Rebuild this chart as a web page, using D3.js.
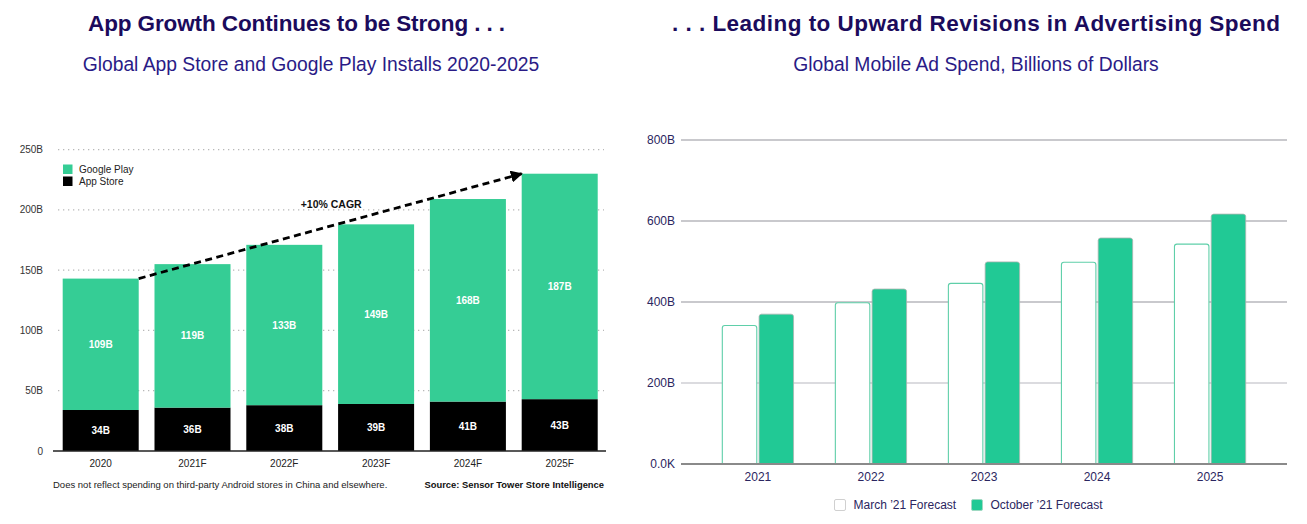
<!DOCTYPE html>
<html><head><meta charset="utf-8">
<script src="https://cdn.jsdelivr.net/npm/d3@7"></script>
<style>
body{margin:0;background:#fff;}
svg{display:block;font-family:"Liberation Sans",Arial,Helvetica,sans-serif;}
</style></head>
<body>
<svg id="chart" width="1307" height="524"></svg>
<script>
// ---- Left chart data ----
const leftYears = ["2020","2021F","2022F","2023F","2024F","2025F"];
const appStore = [34,36,38,39,41,43];
const googlePlay = [109,119,133,149,168,187];
const leftTicks = [0,50,100,150,200,250];
const leftTickLabels = ["0","50B","100B","150B","200B","250B"];

// ---- Right chart data ----
const rightYears = ["2021","2022","2023","2024","2025"];
const marchForecast = [342,398,446,498,543];
const octoberForecast = [370,432,499,558,617];
const rightTicks = [0,200,400,600,800];
const rightTickLabels = ["0.0K","200B","400B","600B","800B"];

const svg = d3.select("#chart");
const navy = "#1b0b5c";
const subNavy = "#2a1b86";
const green = "#35cd95";
const green2 = "#21c995";

// Titles
svg.append("text").attr("x",296.5).attr("y",31).attr("text-anchor","middle")
  .attr("font-size",22.5).attr("font-weight","bold").attr("fill",navy)
  .attr("textLength",417).attr("lengthAdjust","spacing")
  .text("App Growth Continues to be Strong . . .");
svg.append("text").attr("x",311).attr("y",71).attr("text-anchor","middle")
  .attr("font-size",19.3).attr("fill",subNavy)
  .text("Global App Store and Google Play Installs 2020-2025");
svg.append("text").attr("x",976).attr("y",31).attr("text-anchor","middle")
  .attr("font-size",22.5).attr("font-weight","bold").attr("fill",navy)
  .attr("textLength",608).attr("lengthAdjust","spacing")
  .text(". . . Leading to Upward Revisions in Advertising Spend");
svg.append("text").attr("x",976).attr("y",71).attr("text-anchor","middle")
  .attr("font-size",19.3).attr("fill",subNavy)
  .text("Global Mobile Ad Spend, Billions of Dollars");

// ---------- LEFT CHART ----------
const L = {x0:54.8, x1:605.6, y0:451, y1:149.6};
const xL = d3.scaleBand().domain(leftYears).range([L.x0,L.x1]).paddingInner(0.172).paddingOuter(0.086);
const yL = d3.scaleLinear().domain([0,250]).range([L.y0,L.y1]);
const gL = svg.append("g");

// dotted grid
gL.selectAll("line.grid").data(leftTicks.filter(d=>d>0)).join("line")
  .attr("x1",58).attr("x2",604).attr("y1",d=>yL(d)).attr("y2",d=>yL(d))
  .attr("stroke","#b8b8b8").attr("stroke-width",1.3).attr("stroke-dasharray","1.3,3.7");
// y tick labels
gL.selectAll("text.yt").data(leftTicks).join("text")
  .attr("x",43).attr("y",d=>yL(d)).attr("dy","0.35em").attr("text-anchor","end")
  .attr("font-size",10).attr("fill","#333").text((d,i)=>leftTickLabels[i]);

const stackData = leftYears.map((y,i)=>({year:y, a:appStore[i], g:googlePlay[i]}));
// App Store segments
gL.selectAll("rect.as").data(stackData).join("rect")
  .attr("x",d=>xL(d.year)).attr("width",xL.bandwidth())
  .attr("y",d=>yL(d.a)).attr("height",d=>yL(0)-yL(d.a)).attr("fill","#000");
// Google Play segments
gL.selectAll("rect.gp").data(stackData).join("rect")
  .attr("x",d=>xL(d.year)).attr("width",xL.bandwidth())
  .attr("y",d=>yL(d.a+d.g)).attr("height",d=>yL(d.a)-yL(d.a+d.g)).attr("fill",green);
// labels
gL.selectAll("text.asl").data(stackData).join("text")
  .attr("x",d=>xL(d.year)+xL.bandwidth()/2).attr("y",d=>yL(d.a/2)).attr("dy","0.35em")
  .attr("text-anchor","middle").attr("font-size",10).attr("font-weight","bold").attr("fill","#fff")
  .text(d=>d.a+"B");
gL.selectAll("text.gpl").data(stackData).join("text")
  .attr("x",d=>xL(d.year)+xL.bandwidth()/2).attr("y",d=>yL(d.a+d.g/2)).attr("dy","0.35em")
  .attr("text-anchor","middle").attr("font-size",10).attr("font-weight","bold").attr("fill","#fff")
  .text(d=>d.g+"B");
// baseline
gL.append("line").attr("x1",53).attr("x2",606).attr("y1",yL(0)).attr("y2",yL(0))
  .attr("stroke","#222").attr("stroke-width",1.3);
// x labels
gL.selectAll("text.xl").data(leftYears).join("text")
  .attr("x",d=>xL(d)+xL.bandwidth()/2).attr("y",yL(0)+12).attr("dy","0.35em")
  .attr("text-anchor","middle").attr("font-size",10).attr("fill","#222").text(d=>d);

// legend
const legL = [{n:"Google Play",c:green},{n:"App Store",c:"#000"}];
legL.forEach((d,i)=>{
  gL.append("rect").attr("x",63).attr("y",164.5+i*12).attr("width",9.5).attr("height",9.5).attr("fill",d.c);
  gL.append("text").attr("x",79).attr("y",169.3+i*12).attr("dy","0.35em").attr("font-size",10)
    .attr("fill","#222").text(d.n);
});

// CAGR arrow
const first = stackData[0], last = stackData[stackData.length-1];
const ax1 = xL(first.year)+xL.bandwidth(), ay1 = yL(first.a+first.g);
const ax2 = xL(last.year), ay2 = yL(last.a+last.g);
svg.append("defs").append("marker").attr("id","arr").attr("viewBox","0 0 10 10")
  .attr("refX",9).attr("refY",5).attr("markerWidth",4.3).attr("markerHeight",4.3)
  .attr("markerUnits","strokeWidth").attr("orient","auto")
  .append("path").attr("d","M0,0L10,5L0,10Z").attr("fill","#000");
gL.append("line").attr("x1",ax1).attr("y1",ay1).attr("x2",ax2).attr("y2",ay2)
  .attr("stroke","#000").attr("stroke-width",2.8).attr("stroke-dasharray","7,4.5")
  .attr("marker-end","url(#arr)");
gL.append("text").attr("x",(ax1+ax2)/2+1).attr("y",(ay1+ay2)/2-22).attr("dy","0.35em")
  .attr("text-anchor","middle").attr("font-size",10.5).attr("font-weight","bold").attr("fill","#111")
  .text("+10% CAGR");

// footnotes
gL.append("text").attr("x",53).attr("y",485).attr("dy","0.35em").attr("font-size",9.5).attr("fill","#222")
  .text("Does not reflect spending on third-party Android stores in China and elsewhere.");
gL.append("text").attr("x",604).attr("y",485).attr("dy","0.35em").attr("text-anchor","end")
  .attr("font-size",9.4).attr("font-weight","bold").attr("fill","#111")
  .text("Source: Sensor Tower Store Intelligence");

// ---------- RIGHT CHART ----------
const R = {x0:681, x1:1287, y0:464, y1:140};
const xR = d3.scaleBand().domain(rightYears).range([R.x0,R.x1]).padding(0.361);
const xR1 = d3.scaleBand().domain(["m","o"]).range([0,xR.bandwidth()]).paddingInner(0.035);
const yR = d3.scaleLinear().domain([0,800]).range([R.y0,R.y1]);
const gR = svg.append("g");

gR.selectAll("line.grid").data(rightTicks.filter(d=>d>0)).join("line")
  .attr("x1",R.x0).attr("x2",R.x1).attr("y1",d=>yR(d)).attr("y2",d=>yR(d))
  .attr("stroke",(d,i)=>d===200?"#cfcfd4":"#b7b7bd").attr("stroke-width",1.4);
gR.selectAll("text.yt").data(rightTicks).join("text")
  .attr("x",675).attr("y",d=>yR(d)).attr("dy","0.35em").attr("text-anchor","end")
  .attr("font-size",12).attr("fill","#2b2660").text((d,i)=>rightTickLabels[i]);

const rData = rightYears.map((y,i)=>({year:y, m:marchForecast[i], o:octoberForecast[i]}));
function topRounded(x,y,w,h,r){
  return `M${x},${y+h}V${y+r}Q${x},${y} ${x+r},${y}H${x+w-r}Q${x+w},${y} ${x+w},${y+r}V${y+h}`;
}
rData.forEach(d=>{
  const xm = xR(d.year)+xR1("m"), xo = xR(d.year)+xR1("o"), w = xR1.bandwidth();
  gR.append("path").attr("d",topRounded(xm+0.5,yR(d.m),w-1,yR(0)-yR(d.m),2.5))
    .attr("fill","#fff").attr("stroke","#5fcfa9").attr("stroke-width",1.1);
  gR.append("path").attr("d",topRounded(xo+0.5,yR(d.o),w-1,yR(0)-yR(d.o),2.5)+"Z")
    .attr("fill",green2).attr("stroke","#a9b5b0").attr("stroke-width",0.8);
});
gR.append("line").attr("x1",R.x0).attr("x2",R.x1).attr("y1",yR(0)).attr("y2",yR(0))
  .attr("stroke","#8a8a8a").attr("stroke-width",2);
gR.selectAll("text.xl").data(rightYears).join("text")
  .attr("x",d=>xR(d)+xR.bandwidth()/2).attr("y",yR(0)+13).attr("dy","0.35em")
  .attr("text-anchor","middle").attr("font-size",12).attr("fill","#2b2660").text(d=>d);

// right legend
const legR = [{n:"March \u201921 Forecast",fill:"#fff",stroke:"#d0d0d0",x:834},
              {n:"October \u201921 Forecast",fill:green2,stroke:"#9fd9c2",x:971}];
legR.forEach(d=>{
  gR.append("rect").attr("x",d.x+0.5).attr("y",499.5).attr("width",11).attr("height",11).attr("rx",1.5)
    .attr("fill",d.fill).attr("stroke",d.stroke).attr("stroke-width",1);
  gR.append("text").attr("x",d.x+19.5).attr("y",505).attr("dy","0.35em").attr("font-size",12)
    .attr("fill","#2b2660").text(d.n);
});
</script>
</body></html>
